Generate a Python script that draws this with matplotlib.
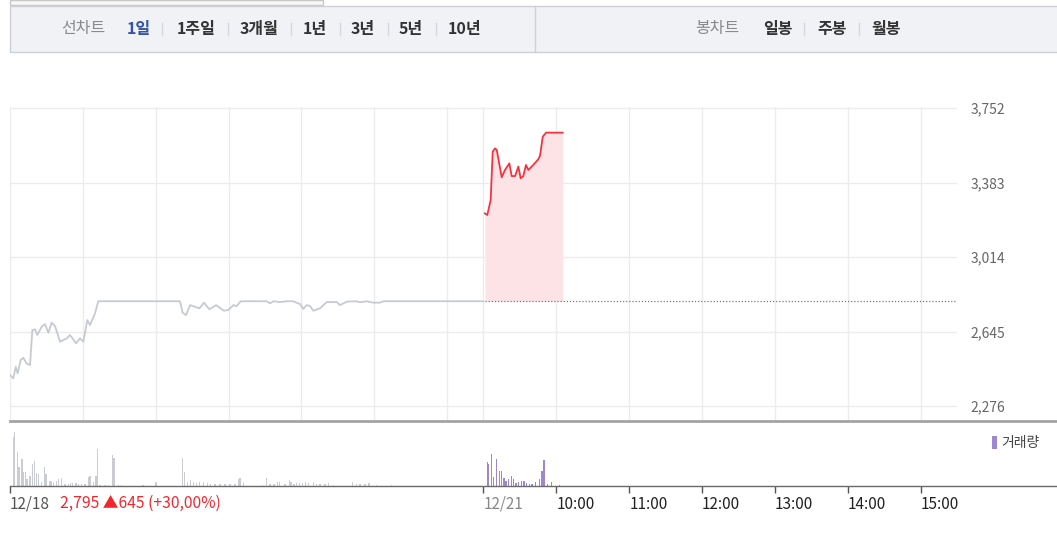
import matplotlib
matplotlib.use('Agg')
import matplotlib.pyplot as plt
from matplotlib.lines import Line2D
from matplotlib.patches import Rectangle

plt.rcParams['font.family'] = ['Noto Sans CJK KR', 'DejaVu Sans']

# time axis: minutes from 12/18 09:00 (12/21 09:00 = 390, 12/21 15:30 = 780)
prev_t = [0, 2.7, 4.7, 6.3, 8.8, 11, 13.7, 16.5, 18.4, 20.6, 22.5, 26.1, 28.8, 31.6, 34.3,
          37.1, 41.2, 43.9, 46.7, 49.4, 54.4, 57.7, 60.4, 63.7, 65.9, 70, 72.7,
          140, 142.2, 145, 148.3, 156, 159.8, 164.2, 169.7, 176.3, 179.8, 184, 186.7, 190,
          211.4, 214.2, 216.9, 222.4, 227.9, 233.3, 238.9, 241.6, 244.4, 247.1, 249.8,
          255.3, 260.9, 269.1, 271.8, 277.3, 285.6, 288.3, 293.8, 299.2, 304.7, 307.5, 390]
prev_p = [2430, 2413, 2471, 2438, 2504, 2515, 2487, 2479, 2652, 2656, 2628, 2669, 2682, 2639, 2689,
          2672, 2595, 2603, 2611, 2628, 2587, 2611, 2595, 2702, 2677, 2735, 2795,
          2795, 2738, 2727, 2776, 2760, 2788, 2755, 2776, 2748, 2752, 2776, 2771, 2795,
          2795, 2785, 2795, 2791, 2795, 2795, 2781, 2757, 2776, 2771, 2748,
          2760, 2791, 2791, 2776, 2793, 2795, 2790, 2795, 2788, 2788, 2795, 2795]

today_t = [391.2, 393.1, 395.9, 397.6, 399.5, 400.9, 405, 407.7, 411.3, 413.2, 416, 418.7,
           420.6, 422.8, 425, 426.9, 431, 435.1, 436.5, 438.8, 441.5, 455.2]
today_p = [3230, 3222, 3296, 3536, 3552, 3545, 3409, 3445, 3478, 3415, 3415, 3462,
           3404, 3415, 3470, 3445, 3470, 3498, 3514, 3610, 3630, 3630]

prev_close = 2795

prev_vol_t = [2.7, 3.5, 6.3, 7.4, 9.9, 11, 12.9, 14, 16.5, 18.4, 20.3, 22, 23.6, 26.1, 28.6, 29.7,
              32.4, 33.8, 35.7, 38.5, 39.8, 42.6, 45.3, 48, 50, 51.6, 54.4, 56.3, 59.1, 61.8,
              64.5, 65.9, 68.6, 70.8, 71.9, 74.1, 78.2, 81, 84.6, 85.7, 89.2, 92, 109.5, 120.3,
              142.2, 143.6, 146, 148.8, 151, 153.8, 155.9, 159.2, 162.5, 165.3, 168.9, 173,
              177.1, 181.2, 185.3, 188, 189.4, 192.2, 208.1, 211.4, 214.2, 217.4, 220.2, 221.8,
              226.5, 230, 231.5, 233.9, 236.1, 238.3, 241.1, 243.6, 245.7, 249.8, 252.6, 255.3,
              259.5, 262.2, 266.3, 282.3, 285.6, 288.3, 292.4, 295.7, 302, 314.4]
prev_vol = [49, 54, 34, 19, 27, 14, 14, 7, 10, 22, 25, 13, 12, 4, 19, 12,
            5, 5, 4, 5, 7, 8, 2, 2, 3, 3, 3, 2, 2, 2,
            9, 10, 4, 10, 37, 1, 1, 1, 31, 28, 1, 1, 1, 4,
            28, 14, 4, 6, 4, 3, 4, 4, 3, 2, 2, 2,
            2, 2, 2, 7, 8, 3, 1, 8, 2, 2, 4, 4,
            2, 6, 4, 2, 3, 3, 3, 4, 3, 4, 2, 2,
            2, 3, 1, 4, 2, 2, 2, 3, 1, 1]

today_vol_t = [393.1, 394.3, 396.8, 398.1, 400.5, 403, 404.7, 406.9, 408.5, 410.8, 412.9, 414.5,
               416.8, 419, 421.1, 423.4, 425.6, 427.7, 430, 432.7, 436, 438.2, 439.8, 442.6,
               446.2, 452.4]
today_vol = [24, 22, 32, 9, 27, 15, 15, 8, 5, 7, 10, 7,
             3, 4, 5, 5, 3, 2, 2, 4, 7, 15, 26, 2,
             4, 1]

price_ticks = [2276, 2645, 3014, 3383, 3752]
grid_x = [0, 60, 120, 180, 240, 300, 360, 390, 450, 510, 570, 630, 690, 750]
x_ticks = [0, 390, 450, 510, 570, 630, 690, 750]
x_labels = ['12/18', '12/21', '10:00', '11:00', '12:00', '13:00', '14:00', '15:00']
summary = '2,795 \u25b2645 (+30,00%)'

line_menu = ['1일', '1주일', '3개월', '1년', '3년', '5년', '10년']
candle_menu = ['일봉', '주봉', '월봉']

W, H = 1057, 542


def fx(px):
    return px / W


def fy(py):
    return 1 - py / H


fig = plt.figure(figsize=(W / 100, H / 100), dpi=100)

# toolbar
fig.patches.append(Rectangle((fx(10), fy(5)), fx(323) - fx(10), 5 / H, transform=fig.transFigure,
                             facecolor='#f7f7f7', edgecolor='#c8c8c8', lw=1))
fig.patches.append(Rectangle((fx(10), fy(52)), 1.0, 46 / H, transform=fig.transFigure,
                             facecolor='#f1f2f6', edgecolor='#cdd0d6', lw=1))
fig.add_artist(Line2D([fx(535), fx(535)], [fy(52), fy(6)], color='#cdd0d6', lw=1))

ty = fy(29)
fig.text(fx(83), ty, '선차트', ha='center', va='center', color='#8a8a8a', fontsize=11.5)
menu_x = [139, 196, 259, 315, 363, 411, 465]
for i, (lab, x) in enumerate(zip(line_menu, menu_x)):
    fig.text(fx(x), ty, lab, ha='center', va='center', fontsize=11.5, fontweight='bold',
             color='#3553a8' if i == 0 else '#333333')
for x in [162, 228, 291, 340, 388, 436]:
    fig.add_artist(Line2D([fx(x), fx(x)], [fy(35), fy(23)], color='#d5d7dc', lw=1))

fig.text(fx(717), ty, '봉차트', ha='center', va='center', color='#8a8a8a', fontsize=11.5)
for lab, x in zip(candle_menu, [778, 832, 886]):
    fig.text(fx(x), ty, lab, ha='center', va='center', fontsize=11.5, fontweight='bold', color='#333333')
for x in [804, 859]:
    fig.add_artist(Line2D([fx(x), fx(x)], [fy(35), fy(23)], color='#d5d7dc', lw=1))

# price panel
ax = fig.add_axes([fx(10), fy(420), fx(957) - fx(10), 313 / H])
ax.plot(prev_t, prev_p, color='#c6cad1', lw=1.3)
ax.fill_between(today_t, today_p, prev_close, color='#fde3e5', lw=0)
ax.plot(today_t, today_p, color='#f7323e', lw=1.3)
ax.hlines(prev_close, today_t[0], 780, colors='#7a7a7a', linestyles=(0, (1, 1.5)), lw=0.9)
ax.set_xlim(0, 780)
ax.set_ylim(2207, 3757)
ax.set_xticks(grid_x)
ax.set_yticks(price_ticks, [f'{v:,}' for v in price_ticks])
ax.yaxis.tick_right()
ax.tick_params(axis='y', length=0, pad=9.5, labelsize=10, labelcolor='#666666')
ax.tick_params(axis='x', length=0, labelbottom=False)
ax.grid(True, color='#ececec', lw=1)
ax.set_axisbelow(True)
for s in ax.spines.values():
    s.set_visible(False)

# volume panel
axv = fig.add_axes([fx(10), fy(486), fx(957) - fx(10), 65 / H])
axv.bar(prev_vol_t, prev_vol, width=1.2, color='#c9cdd3')
axv.bar(today_vol_t, today_vol, width=1.2, color='#9d87d4', label='거래량')
axv.set_xlim(0, 780)
axv.set_ylim(0, 65)
axv.set_yticks([])
axv.set_xticks(x_ticks, x_labels)
axv.tick_params(axis='x', length=5, width=1, color='#555555', pad=2, labelsize=11)
label_colors = ['#555555', '#888888'] + ['#222222'] * 6
for lbl, c in zip(axv.get_xticklabels(), label_colors):
    lbl.set_ha('left')
    lbl.set_color(c)
for s in axv.spines.values():
    s.set_visible(False)
axv.patch.set_alpha(0)
axv.legend(loc='upper left', bbox_to_anchor=(fx(985), fy(429)), bbox_transform=fig.transFigure,
           frameon=False, handlelength=0.35, handleheight=1.1, handletextpad=0.35,
           borderpad=0, fontsize=10, labelcolor='#444444')

fig.text(fx(60), fy(503), summary, color='#f0282e', fontsize=11.3, va='center')

# panel borders running to the right edge
fig.add_artist(Line2D([fx(10), 1], [fy(420.5)] * 2, color='#a3a3a3', lw=2))
fig.add_artist(Line2D([fx(10), 1], [fy(486)] * 2, color='#6a6a6a', lw=1))

fig.savefig('out.png', dpi=100)
